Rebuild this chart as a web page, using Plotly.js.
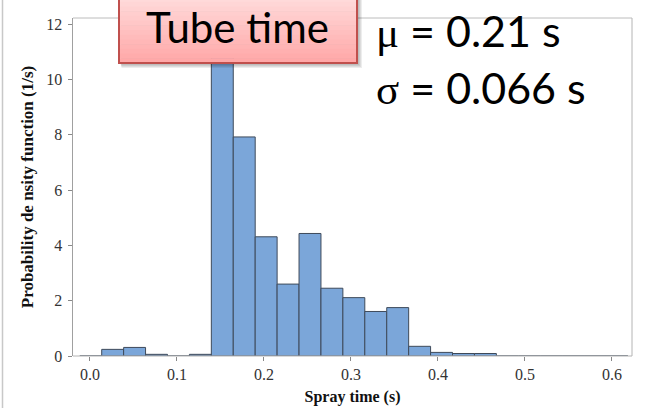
<!DOCTYPE html>
<html>
<head>
<meta charset="utf-8">
<script src="https://cdn.plot.ly/plotly-3.0.1.min.js"></script>
<style>html,body{margin:0;padding:0;background:#fff;}#chart{width:648px;height:408px;}</style>
</head>
<body>
<div id="chart"></div>
<script>
// Histogram of spray time (density, 1/s)
const binStart = -0.0117;
const binWidth = 0.0252;
const density = [0, 0.24, 0.31, 0.06, 0, 0.06, 11.2, 7.92, 4.31, 2.60, 4.43, 2.45, 2.11, 1.61, 1.75, 0.35, 0.13, 0.09, 0.09, 0, 0, 0, 0, 0, 0];
const xTickVals = [0.0, 0.1, 0.2, 0.3, 0.4, 0.5, 0.6];
const yTickVals = [0, 2, 4, 6, 8, 10, 12];
const boxLabel = "Tube time";
const statLines = ["μ", " = 0.21 s", "σ", " = 0.066 s"];

const centers = density.map((_, i) => binStart + binWidth * (i + 0.5));

const W = 648, H = 408, L = 73, R = 16, T = 18, B = 52;
const pw = W - L - R, ph = H - T - B;
const px = v => (v - L) / pw;
const py = v => (H - B - v) / ph;

const shapes = [];
// slide left border
shapes.push({type: 'line', xref: 'paper', yref: 'paper', x0: px(2.5), x1: px(2.5), y0: py(0), y1: py(408), line: {color: '#c8c8c8', width: 1.5}, layer: 'above'});
// frame top/right/bottom
shapes.push({type: 'line', xref: 'paper', yref: 'paper', x0: 0, x1: 1, y0: 1, y1: 1, line: {color: '#bcbcbc', width: 1}});
shapes.push({type: 'line', xref: 'paper', yref: 'paper', x0: 1, x1: 1, y0: 0, y1: 1, line: {color: '#b4b4b4', width: 1}});
shapes.push({type: 'line', xref: 'paper', yref: 'paper', x0: 0, x1: 1, y0: 0, y1: 0, line: {color: '#b4b4b4', width: 1}});
// box shadow
const bx0 = 119, bx1 = 357, by0 = -3, by1 = 63;
for (let k = 1; k <= 5; k++) {
  shapes.push({type: 'rect', xref: 'paper', yref: 'paper', layer: 'above',
    x0: px(bx0 + 1 + k * 0.3), x1: px(bx1 + k), y0: py(by1 + k), y1: py(by0 + 3),
    fillcolor: 'rgba(0,0,0,0.07)', line: {width: 0}});
}
// gradient fill
const nStrip = 14;
for (let i = 0; i < nStrip; i++) {
  const t = i / (nStrip - 1);
  const g = Math.round(218 - t * 50);
  const r = 255;
  const y0 = by0 + (by1 - by0) * i / nStrip, y1 = by0 + (by1 - by0) * (i + 1) / nStrip;
  shapes.push({type: 'rect', xref: 'paper', yref: 'paper', layer: 'above',
    x0: px(bx0), x1: px(bx1), y0: py(y1 + 0.5), y1: py(y0),
    fillcolor: `rgb(${r},${g},${g})`, line: {width: 0}});
}
shapes.push({type: 'rect', xref: 'paper', yref: 'paper', layer: 'above',
  x0: px(bx0), x1: px(bx1), y0: py(by1), y1: py(by0),
  fillcolor: 'rgba(0,0,0,0)', line: {color: '#c0504d', width: 2}});

const trace = {
  type: 'bar',
  x: centers,
  y: density,
  width: binWidth,
  marker: {color: '#7ba6d9', line: {color: '#3e4a5a', width: 1}},
  hoverinfo: 'skip'
};

const serif = 'Liberation Serif, Times New Roman, serif';
const sans = 'Lato, Open Sans, sans-serif';

const layout = {
  width: W, height: H,
  margin: {l: L, r: R, t: T, b: B, pad: 0},
  paper_bgcolor: '#fff', plot_bgcolor: '#fff',
  showlegend: false,
  bargap: 0,
  xaxis: {
    range: [-0.0195, 0.623],
    tickvals: xTickVals, tickformat: '.1f',
    ticks: 'outside', ticklen: 4, tickcolor: '#888', tickwidth: 1,
    showgrid: false, zeroline: false, showline: false,
    tickfont: {family: serif, size: 16, color: '#333'},
    title: {text: '<b>Spray time (s)</b>', font: {family: serif, size: 16, color: '#111'}, standoff: 8}
  },
  yaxis: {
    range: [0, 12.22],
    tickvals: yTickVals,
    ticks: 'outside', ticklen: 4, tickcolor: '#888', tickwidth: 1,
    ticklabelstandoff: 2,
    showgrid: false, zeroline: false,
    showline: true, linecolor: '#a0a0a0', linewidth: 1.5,
    tickfont: {family: serif, size: 16, color: '#333'},
    title: {text: '<b>Probability de nsity function (1/s)</b>', font: {family: serif, size: 17, color: '#111'}, standoff: 8}
  },
  shapes: shapes,
  annotations: [
    {xref: 'paper', yref: 'paper', x: px(237), y: py(27), xanchor: 'center', yanchor: 'middle',
     text: boxLabel, showarrow: false, font: {family: sans, size: 42, color: '#000'}},
    {xref: 'paper', yref: 'paper', x: px(374), y: py(31), xanchor: 'left', yanchor: 'middle',
     text: '<span style="font-family:Liberation Serif">' + statLines[0] + '</span>' + statLines[1],
     showarrow: false, font: {family: sans, size: 43, color: '#000'}},
    {xref: 'paper', yref: 'paper', x: px(374), y: py(88), xanchor: 'left', yanchor: 'middle',
     text: '<span style="font-family:Liberation Serif">' + statLines[2] + '</span>' + statLines[3],
     showarrow: false, font: {family: sans, size: 43, color: '#000'}}
  ]
};

Plotly.newPlot('chart', [trace], layout, {displayModeBar: false, staticPlot: true});
</script>
</body>
</html>
